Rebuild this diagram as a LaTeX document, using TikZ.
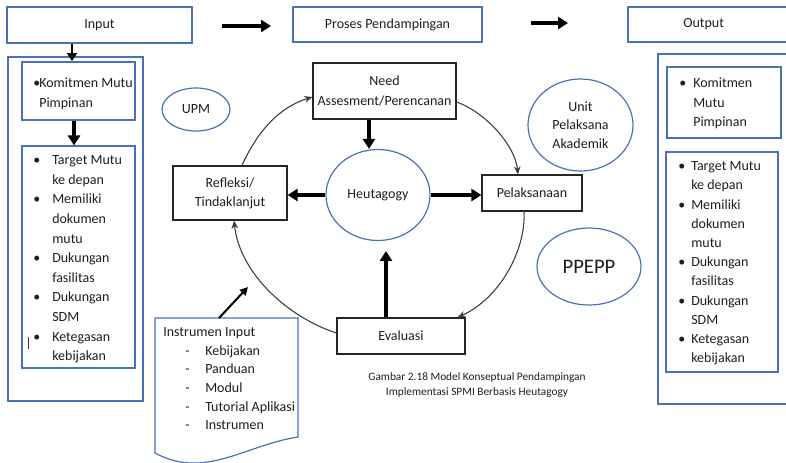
\documentclass[tikz,border=0pt]{standalone}
\usepackage{fontspec}
\setmainfont{Carlito}
\usetikzlibrary{arrows.meta,shapes.geometric}

\definecolor{wblue}{HTML}{4A72B8}
\definecolor{ink}{HTML}{1E1E1E}
\definecolor{curve}{HTML}{3C3C3C}

\newcommand{\bul}[1]{\makebox[#1][l]{\textbullet}}

\begin{document}
\begin{tikzpicture}[x=0.75pt,y=-0.75pt,
  every node/.style={font=\fontsize{10.5}{14.7}\selectfont, text=ink},
  sz/.style 2 args={minimum width=#1*0.75pt, minimum height=#2*0.75pt},
  bluebox/.style={draw=wblue, line width=0.9pt, rectangle, inner sep=0},
  blackbox/.style={draw=black!85, line width=0.9pt, rectangle, inner sep=0, align=center},
  blueoval/.style={draw=wblue, line width=0.9pt, ellipse, inner sep=0, align=center},
  fatarrow/.style={line width=3pt, -{Triangle[length=7.5pt,width=9pt]}},
  midarrow/.style={line width=2.2pt, -{Triangle[length=6pt,width=7.5pt]}},
  slimarrow/.style={line width=1.5pt, -{Triangle[length=6pt,width=6pt]}},
  arcarrow/.style={draw=curve, line width=0.8pt, -{Stealth[length=6pt,width=5pt]}},
  listtext/.style={anchor=north west, inner sep=0, align=left}]

\useasboundingbox (0,0) rectangle (786,462);
\clip (0,0) rectangle (786,462);

% ---------- top row ----------
\node[bluebox, sz={185}{36}] (inputbox) at (99.5,25) {Input};
\node[bluebox, sz={189}{35}] (proses) at (387.5,24.5) {Proses Pendampingan};
\node[bluebox, sz={162}{35}] (output) at (709,24.5) {\hspace*{-4pt}Output\hspace*{4pt}};

\coordinate (a1s) at (222,26);
\coordinate (a1e) at (271,26);
\coordinate (a2s) at (531,23);
\coordinate (a2e) at (568,23);
\draw[fatarrow] (a1s) -- (a1e);
\draw[fatarrow] (a2s) -- (a2e);

% ---------- left column (input) ----------
\node[bluebox, sz={135}{344}] (leftouter) at (75.5,229) {};
\node[bluebox, sz={113}{58}] (komL) at (78.5,91) {};
\node[bluebox, sz={113}{222}] (listL) at (78.5,257) {};

\coordinate (inTip) at (72,61);
\draw[midarrow] (inputbox.south -| inTip) -- (inTip);
\coordinate (kx) at (74,0);
\draw[fatarrow] (komL.south -| kx) -- (listL.north -| kx);

\node[listtext] (komLtext) at (33,77.5)
  {\bul{4.5pt}Komitmen Mutu\\\hspace*{4.5pt}Pimpinan};
\node[listtext] (listLtext) at (33,155.5)
  {\bul{14.25pt}Target Mutu\\\hspace*{14.25pt}ke depan\\
   \bul{14.25pt}Memiliki\\\hspace*{14.25pt}dokumen\\\hspace*{14.25pt}mutu\\
   \bul{14.25pt}Dukungan\\\hspace*{14.25pt}fasilitas\\
   \bul{14.25pt}Dukungan\\\hspace*{14.25pt}SDM\\
   \bul{14.25pt}Ketegasan\\\hspace*{14.25pt}kebijakan};
% stray text cursor
\coordinate (curA) at (28,337);
\coordinate (curB) at (28,349);
\draw[line width=0.7pt, black!80] (curA) -- (curB);

% ---------- right column (output) ----------
\node[bluebox, sz={137}{350}] (rightouter) at (726.5,229) {};
\node[bluebox, sz={114}{71}] (komR) at (724,102.5) {};
\node[bluebox, sz={112}{220}] (listR) at (722,262) {};

\node[listtext] (komRtext) at (679,77.5)
  {\bul{10.5pt}Komitmen\\\hspace*{10.5pt}Mutu\\\hspace*{10.5pt}Pimpinan};
\node[listtext, font=\fontsize{10.5}{14.4}\selectfont] (listRtext) at (678,161.5)
  {\bul{9.75pt}Target Mutu\\\hspace*{9.75pt}ke depan\\
   \bul{9.75pt}Memiliki\\\hspace*{9.75pt}dokumen\\\hspace*{9.75pt}mutu\\
   \bul{9.75pt}Dukungan\\\hspace*{9.75pt}fasilitas\\
   \bul{9.75pt}Dukungan\\\hspace*{9.75pt}SDM\\
   \bul{9.75pt}Ketegasan\\\hspace*{9.75pt}kebijakan};

% ---------- units ----------
\node[blueoval, sz={68}{43}] (upm) at (196,109.5) {UPM};
\node[blueoval, sz={105}{92}, font=\fontsize{10.5}{13.9}\selectfont] (upa) at (580.5,125) {Unit\\Pelaksana\\Akademik};
\node[blueoval, sz={104}{77}, font=\fontsize{15.5}{18}\selectfont] (ppepp) at (589,266.5) {PPEPP};

% ---------- cycle ----------
\node[blackbox, sz={143}{56}, font=\fontsize{10.5}{15}\selectfont] (need) at (384.5,91) {Need\\Assesment/Perencanan};
\node[blueoval, sz={104}{91}] (heut) at (378,195) {Heutagogy};
\node[blackbox, sz={114}{54}, font=\fontsize{10.5}{14.5}\selectfont] (refl) at (230,193) {Refleksi/\\Tindaklanjut};
\node[blackbox, sz={100}{36}] (pelak) at (532,193) {Pelaksanaan};
\node[blackbox, sz={128}{36}] (eval) at (401,336) {Evaluasi};

\coordinate (nx) at (369,0);
\draw[fatarrow] (need.south -| nx) -- (nx |- heut.north);
\draw[fatarrow] (heut.west) -- (refl.east |- heut.west);
\draw[fatarrow] (heut.east) -- (pelak.west |- heut.east);
\coordinate (etip) at (386,251);
\draw[fatarrow] (eval.north -| etip) -- (etip);

\draw[arcarrow] ([xshift=9pt]refl.north) .. controls (258,130) and (280,107) .. ([yshift=-4.5pt]need.west);
\draw[arcarrow] ([yshift=-8.25pt]need.east) .. controls (485,112) and (515,145) .. ([xshift=-10.5pt]pelak.north);
\draw[arcarrow] ([xshift=-6pt]pelak.south) .. controls (526,250) and (500,298) .. ([xshift=-6pt]eval.north east);
\draw[arcarrow] ([yshift=2.25pt]eval.west) .. controls (290,318) and (240,275) .. ([xshift=3pt]refl.south);

% ---------- instrument document ----------
\draw[draw=wblue, line width=0.9pt]
  (155,318) -- (298,318) -- (298,437)
  .. controls (245,445) and (205,480) .. (155,453) -- cycle;
\node[listtext, font=\fontsize{10.5}{13.95}\selectfont] (instr) at (163,327.5)
  {Instrumen Input\\
   \hspace*{16.5pt}\makebox[15pt][l]{-}Kebijakan\\
   \hspace*{16.5pt}\makebox[15pt][l]{-}Panduan\\
   \hspace*{16.5pt}\makebox[15pt][l]{-}Modul\\
   \hspace*{16.5pt}\makebox[15pt][l]{-}Tutorial Aplikasi\\
   \hspace*{16.5pt}\makebox[15pt][l]{-}Instrumen};
\coordinate (doctop) at (219,318);
\coordinate (docaim) at (248,287);
\draw[slimarrow] (doctop) -- (docaim);

% ---------- caption ----------
\node[align=center, font=\fontsize{8.5}{11.25}\selectfont] (caption) at (477,385.5)
  {Gambar 2.18 Model Konseptual Pendampingan\\Implementasi SPMI Berbasis Heutagogy};

\end{tikzpicture}
\end{document}
